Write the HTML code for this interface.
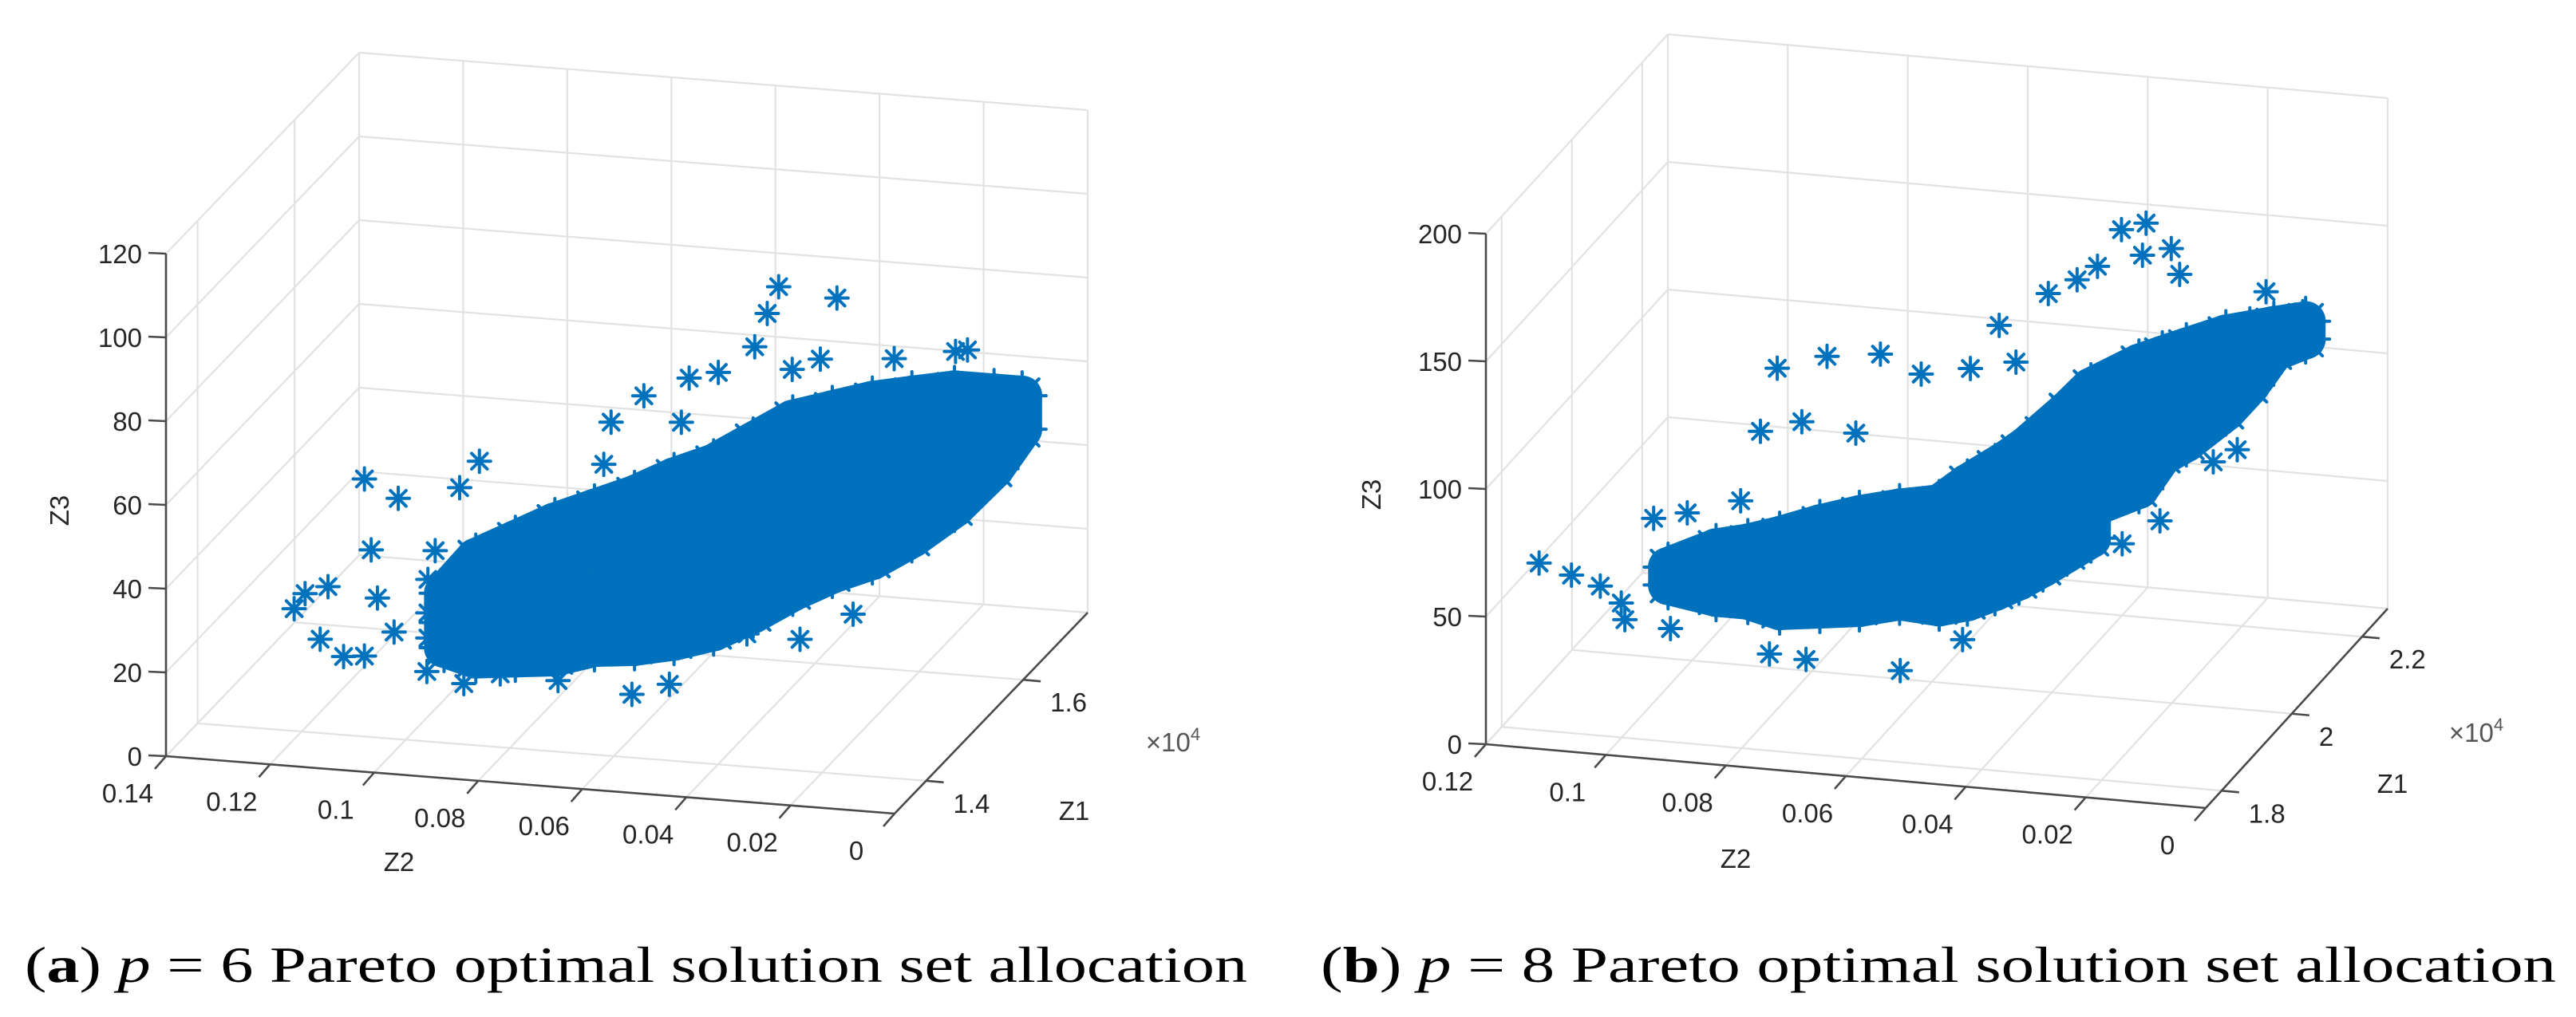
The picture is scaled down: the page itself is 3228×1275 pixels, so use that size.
<!DOCTYPE html>
<html><head><meta charset="utf-8"><style>
html,body{margin:0;padding:0;background:#fff;}
svg{display:block;}
</style></head><body>
<svg id="fig" xmlns="http://www.w3.org/2000/svg" width="3228" height="1275" viewBox="0 0 3228 1275">
<rect width="3228" height="1275" fill="#fff"/>
<g id="plotA"></g>
<g id="plotB"></g>
<text x="31" y="1231" font-family="Liberation Serif, serif" font-size="64" fill="#000" textLength="1532" lengthAdjust="spacingAndGlyphs">(<tspan font-weight="bold">a</tspan>) <tspan font-style="italic">p</tspan> = 6 Pareto optimal solution set allocation</text>
<text x="1655" y="1231" font-family="Liberation Serif, serif" font-size="64" fill="#000" textLength="1548" lengthAdjust="spacingAndGlyphs">(<tspan font-weight="bold">b</tspan>) <tspan font-style="italic">p</tspan> = 8 Pareto optimal solution set allocation</text>
</svg>
<script>
// ---------- Plot A data (p = 6) ----------
const A_z2Ticks = [0.14,0.12,0.1,0.08,0.06,0.04,0.02,0];
const A_z2Labels = ["0.14","0.12","0.1","0.08","0.06","0.04","0.02","0"];
const A_z1Ticks = [1.4,1.6];
const A_z1Labels = ["1.4","1.6"];
const A_z3Ticks = [0,20,40,60,80,100,120];
const A_z3Labels = ["0","20","40","60","80","100","120"];
const A_coreZ2 = [0.0917,0.0917,0.0917, 0.0856,0.0856,0.0856,0.0856,0.0856, 0.078,0.078,0.078,0.078,0.078, 0.0704,0.0704,0.0704,0.0704,0.0704, 0.0628,0.0628,0.0628,0.0628,0.0628, 0.0551,0.0551,0.0551,0.0551,0.0551, 0.0475,0.0475,0.0475,0.0475,0.0475, 0.0399,0.0399,0.0399,0.0399,0.0399, 0.0323,0.0323,0.0323,0.0323,0.0323, 0.0247,0.0247,0.0247,0.0247,0.0247, 0.0171,0.0171,0.0171,0.0171,0.0171, 0.0094,0.0094,0.0094,0.0094,0.0094, 0.0018,0.0018,0.0018,0.0018,0.0018, 0.0145,0.0145,0.0145,0.0145, 0.0069,0.0069,0.0069, 0.0015,0.0015];
const A_coreZ1 = [1.39,1.39,1.39, 1.39,1.39,1.39,1.39,1.39, 1.39,1.39,1.39,1.39,1.39, 1.39,1.39,1.39,1.39,1.39, 1.39,1.39,1.39,1.39,1.39, 1.39,1.39,1.39,1.39,1.39, 1.39,1.39,1.39,1.39,1.39, 1.39,1.39,1.39,1.39,1.39, 1.39,1.39,1.39,1.39,1.39, 1.39,1.39,1.39,1.39,1.39, 1.39,1.39,1.39,1.39,1.39, 1.39,1.39,1.39,1.39,1.39, 1.39,1.39,1.39,1.39,1.39, 1.614,1.614,1.614,1.614, 1.614,1.614,1.614, 1.614,1.614];
const A_coreZ3 = [37,30,24, 46,40,34,28,22, 51,44,37,30,23, 56,48,40,32,24, 60,52,44,36,27, 64,55,46,37,28, 69,60,50,40,30, 73,63,53,43,33, 79,68,57,47,38, 85,74,64,54,44, 88,78,68,58,49, 91,81,71,61,53, 93,84,75,66,59, 66,56,46,38, 66,57,48, 66,58];
const A_outZ2 = [0.107,0.1005,0.0849,0.0887,0.1057,0.0934,0.1205,0.114,0.1155,0.111,0.107,0.1045,0.1013,0.095,0.0879,0.0698,0.0556,0.0484,0.0596,0.0533,0.0446,0.039,0.032,0.0296,0.0274,0.0162,0.0194,0.0248,0.0052,0.0143,0.012,0.061,0.073,0.0131,0.0233,0.0335,0.0762,0.0461,0.0809,0.1184,0.0948,0.0948,0.0948];
const A_outZ1 = [1.39,1.39,1.39,1.39,1.39,1.39,1.39,1.39,1.39,1.39,1.39,1.39,1.39,1.39,1.39,1.39,1.39,1.39,1.39,1.39,1.39,1.39,1.39,1.39,1.39,1.39,1.39,1.39,1.39,1.614,1.614,1.39,1.39,1.39,1.39,1.39,1.39,1.39,1.39,1.39,1.39,1.39,1.39];
const A_outZ3 = [62.8,58.8,69.2,62.5,46,47,30.5,36.4,23.7,20,20.5,34.6,26.8,18,15.8,18.3,16.4,19.5,81,87.9,93,94.9,101.7,109.9,116.5,114.9,100,97,101.5,75.3,75.9,70.8,53.6,39.7,32.7,33,42.6,82.3,18.8,34.3,40,32,26];

// ---------- Plot B data (p = 8) ----------
const B_z2Ticks = [0.12,0.1,0.08,0.06,0.04,0.02,0];
const B_z2Labels = ["0.12","0.1","0.08","0.06","0.04","0.02","0"];
const B_z1Ticks = [1.8,2,2.2];
const B_z1Labels = ["1.8","2","2.2"];
const B_z3Ticks = [0,50,100,150,200];
const B_z3Labels = ["0","50","100","150","200"];
const B_coreZ2 = [0.0942,0.0942, 0.0862,0.0862,0.0862, 0.0809,0.0809,0.0809, 0.0756,0.0756,0.0756,0.0756, 0.0689,0.0689,0.0689,0.0689, 0.0623,0.0623,0.0623,0.0623, 0.0556,0.0556,0.0556,0.0556, 0.049,0.049,0.049,0.049,0.049, 0.0443,0.0443,0.0443,0.0443,0.0443, 0.0397,0.0397,0.0397,0.0397,0.0397, 0.0357,0.0357,0.0357,0.0357,0.0357, 0.0317,0.0317,0.0317,0.0317,0.0317, 0.0277,0.0277,0.0277,0.0277,0.0277, 0.0237,0.0237,0.0237,0.0237,0.0237, 0.0157,0.0157,0.0157,0.0157,0.0157, 0.0118,0.0118,0.0118,0.0118, 0.0078,0.0078,0.0078,0.0078, 0.0179,0.0179,0.0179,0.0179, 0.0139,0.0139,0.0139, 0.0099,0.0099, 0.0046,0.0046];
const B_coreZ1 = [1.833,1.833, 1.833,1.833,1.833, 1.833,1.833,1.833, 1.833,1.833,1.833,1.833, 1.833,1.833,1.833,1.833, 1.833,1.833,1.833,1.833, 1.833,1.833,1.833,1.833, 1.833,1.833,1.833,1.833,1.833, 1.833,1.833,1.833,1.833,1.833, 1.833,1.833,1.833,1.833,1.833, 1.833,1.833,1.833,1.833,1.833, 1.833,1.833,1.833,1.833,1.833, 1.833,1.833,1.833,1.833,1.833, 1.833,1.833,1.833,1.833,1.833, 1.833,1.833,1.833,1.833,1.833, 1.833,1.833,1.833,1.833, 1.833,1.833,1.833,1.833, 2.118,2.118,2.118,2.118, 2.118,2.118,2.118, 2.118,2.118, 2.118,2.118];
const B_coreZ3 = [63,56, 72,62,53, 75,64,53, 79,68,58,50, 85,73,61,52, 90,78,66,54, 94,82,70,58, 97,86,75,64,57, 106,93,80,68,60, 113,100,88,76,65, 120,106,93,80,70, 128,114,100,87,76, 138,123,109,95,83, 148,132,116,101,89, 159,145,131,118,110, 163,150,137,124, 167,155,142,130, 127,116,105,97, 129,118,108, 132,122, 135,128];
const B_outZ2 = [0.1157,0.1103,0.1055,0.102,0.1014,0.0938,0.0773,0.0712,0.0555,0.0451,0.0966,0.091,0.0821,0.0788,0.076,0.0677,0.0588,0.0719,0.0629,0.052,0.0438,0.039,0.0362,0.0122,0.0185,0.0475,0.0427,0.0353,0.0312,0.027,0.0256,0.0318,0.0393,0.0112,0.0051,0.0044,0.016,0.02];
const B_outZ1 = [1.833,1.833,1.833,1.833,1.833,1.833,1.833,1.833,1.833,1.833,1.833,1.833,1.833,1.833,1.833,1.833,1.833,1.833,1.833,1.833,1.833,1.833,1.833,1.833,1.833,2.118,2.118,2.118,2.118,2.118,2.118,2.118,2.118,2.118,2.118,2.118,2.118,2.118];
const B_outZ3 = [60.1,56.5,53.2,47.3,40.9,39,32.5,31.6,30.5,44.8,81.6,84.9,91.5,119.4,144.7,151.1,153.8,124.6,122,147.4,151.3,169.2,155.4,98.2,87.9,136.9,143.3,164.5,167.9,158.8,149,155.2,149.3,145.2,138.6,126.6,82.3,76.7];

const NS = "http://www.w3.org/2000/svg";
const BLUE = "#0072BD";
function el(tag, attrs, parent){
  const e = document.createElementNS(NS, tag);
  for (const k in attrs) e.setAttribute(k, attrs[k]);
  parent.appendChild(e);
  return e;
}
function makeProj(c){
  return function(z2, z1, z3){
    const a = (c.z2max - z2) / c.z2max;
    const b = (z1 - c.z1min) / (c.z1max - c.z1min);
    return [c.O[0] + a*c.v2[0] + b*c.v1[0], c.O[1] + a*c.v2[1] + b*c.v1[1] - z3*c.z3px];
  };
}
function star(x, y, s){
  const d = s*0.7;
  return `M${x-s} ${y}h${2*s}M${x} ${y-s}v${2*s}M${x-d} ${y-d}l${2*d} ${2*d}M${x-d} ${y+d}l${2*d} ${-2*d}`;
}
function drawPlot(g, c, z2T, z2L, z1T, z1L, z3T, z3L, cZ2, cZ1, cZ3, oZ2, oZ1, oZ3){
  const P = makeProj(c);
  const grid = el("g", {stroke:"#e2e2e2","stroke-width":2.2,fill:"none"}, g);
  
  
  function line(p, q, parent, nm){
    const l = el("line", {x1:p[0],y1:p[1],x2:q[0],y2:q[1]}, parent);
    
    
    return l;
  }
  z2T.forEach(t => {
    line(P(t,c.z1min,0), P(t,c.z1max,0), grid, 'floor-gridline-z2');
    line(P(t,c.z1max,0), P(t,c.z1max,c.z3max), grid, 'back-gridline-z2');
  });
  z1T.concat([c.z1max]).forEach(t => {
    line(P(c.z2max,t,0), P(0,t,0), grid, 'floor-gridline-z1');
    line(P(c.z2max,t,0), P(c.z2max,t,c.z3max), grid, 'side-gridline-z1');
  });
  z3T.forEach(t => {
    line(P(c.z2max,c.z1max,t), P(0,c.z1max,t), grid, 'back-gridline-z3');
    line(P(c.z2max,c.z1min,t), P(c.z2max,c.z1max,t), grid, 'side-gridline-z3');
  });
  // dense cloud: points joined by thick round strokes to neighbours
  const pts = cZ2.map((v,i) => P(v, cZ1[i], cZ3[i]));
  const blob = el("g", {fill:BLUE, stroke:BLUE, "stroke-width":50, "stroke-linecap":"round"}, g);
  
  
  for (let i=0;i<pts.length;i++){
    for (let j=i+1;j<pts.length;j++){
      const dx = pts[i][0]-pts[j][0], dy = pts[i][1]-pts[j][1];
      if (dx*dx+dy*dy < 80*80){
        const l = el("line", {x1:pts[i][0],y1:pts[i][1],x2:pts[j][0],y2:pts[j][1]}, blob);
        
        
      }
    }
  }
  const stars = el("g", {stroke:BLUE, fill:"none", "stroke-linecap":"round"}, g);
  
  
  for (let i=0;i<pts.length;i++){
    const p = pts[i];
    const ci = el("circle", {cx:p[0], cy:p[1], r:25, fill:BLUE, stroke:"none"}, stars);
    
    
    const s = el("path", {d:star(p[0],p[1],30), "stroke-width":4}, stars);
    
    
  }
  for (let i=0;i<oZ2.length;i++){
    const p = P(oZ2[i], oZ1[i], oZ3[i]);
    const m = el("g", {}, stars);
    
    
    el("circle", {cx:p[0], cy:p[1], r:5, fill:BLUE, stroke:"none"}, m);
    el("path", {d:star(p[0],p[1],14), "stroke-width":4}, m);
  }
  const ax = el("g", {stroke:"#4a4a4a","stroke-width":2.6,fill:"none"}, g);
  
  
  line(P(c.z2max,c.z1min,0), P(0,c.z1min,0), ax, 'z2-axis-line');
  line(P(0,c.z1min,0), P(0,c.z1max,0), ax, 'z1-axis-line');
  line(P(c.z2max,c.z1min,0), P(c.z2max,c.z1min,c.z3max), ax, 'z3-axis-line');
  const txt = el("g", {fill:"#262626","font-family":"Liberation Sans, sans-serif","font-size":33}, g);
  
  
  z2T.forEach((t,i) => {
    const p = P(t,c.z1min,0);
    line(p, [p[0]-14, p[1]+16], ax, 'z2-tick');
    const tx = el("text", {x:p[0]-48, y:p[1]+58, "text-anchor":"middle"}, txt);
    
    
    tx.textContent = z2L[i];
  });
  z1T.forEach((t,i) => {
    const p = P(0,t,0);
    line(p, [p[0]+22, p[1]+2], ax, 'z1-tick');
    const tx = el("text", {x:p[0]+34, y:p[1]+40, "text-anchor":"start"}, txt);
    
    
    tx.textContent = z1L[i];
  });
  z3T.forEach((t,i) => {
    const p = P(c.z2max,c.z1min,t);
    line(p, [p[0]-22, p[1]-1], ax, 'z3-tick');
    const tx = el("text", {x:p[0]-30, y:p[1]+12, "text-anchor":"end"}, txt);
    
    
    tx.textContent = z3L[i];
  });
  const t3 = el("text", {x:c.z3title[0], y:c.z3title[1], "text-anchor":"middle", transform:`rotate(-90 ${c.z3title[0]} ${c.z3title[1]})`}, txt);
  
  
  t3.textContent = "Z3";
  const t2 = el("text", {x:c.z2title[0], y:c.z2title[1], "text-anchor":"middle"}, txt);
  
  
  t2.textContent = "Z2";
  const t1 = el("text", {x:c.z1title[0], y:c.z1title[1], "text-anchor":"middle"}, txt);
  
  
  t1.textContent = "Z1";
  const ex = el("text", {x:c.exp[0], y:c.exp[1], "text-anchor":"middle", fill:"#555"}, txt);
  
  
  ex.textContent = "×10";
  const sup = el("tspan", {dy:-14, "font-size":22}, ex);
  sup.textContent = "4";
}
const cfgA = {O:[208,948], v2:[913,72], v1:[242,-252], z3px:5.25, z2max:0.14, z1min:1.335, z1max:1.733, z3max:120,
  z3title:[86,640], z2title:[500,1092], z1title:[1346,1028], exp:[1470,942]};
const cfgB = {O:[1862,933], v2:[902,80], v1:[228,-250], z3px:3.2, z2max:0.12, z1min:1.755, z1max:2.273, z3max:200,
  z3title:[1730,620], z2title:[2175,1088], z1title:[2998,994], exp:[3103,930]};
drawPlot(document.getElementById("plotA"), cfgA, A_z2Ticks, A_z2Labels, A_z1Ticks, A_z1Labels, A_z3Ticks, A_z3Labels, A_coreZ2, A_coreZ1, A_coreZ3, A_outZ2, A_outZ1, A_outZ3);
drawPlot(document.getElementById("plotB"), cfgB, B_z2Ticks, B_z2Labels, B_z1Ticks, B_z1Labels, B_z3Ticks, B_z3Labels, B_coreZ2, B_coreZ1, B_coreZ3, B_outZ2, B_outZ1, B_outZ3);
</script>
</body></html>
